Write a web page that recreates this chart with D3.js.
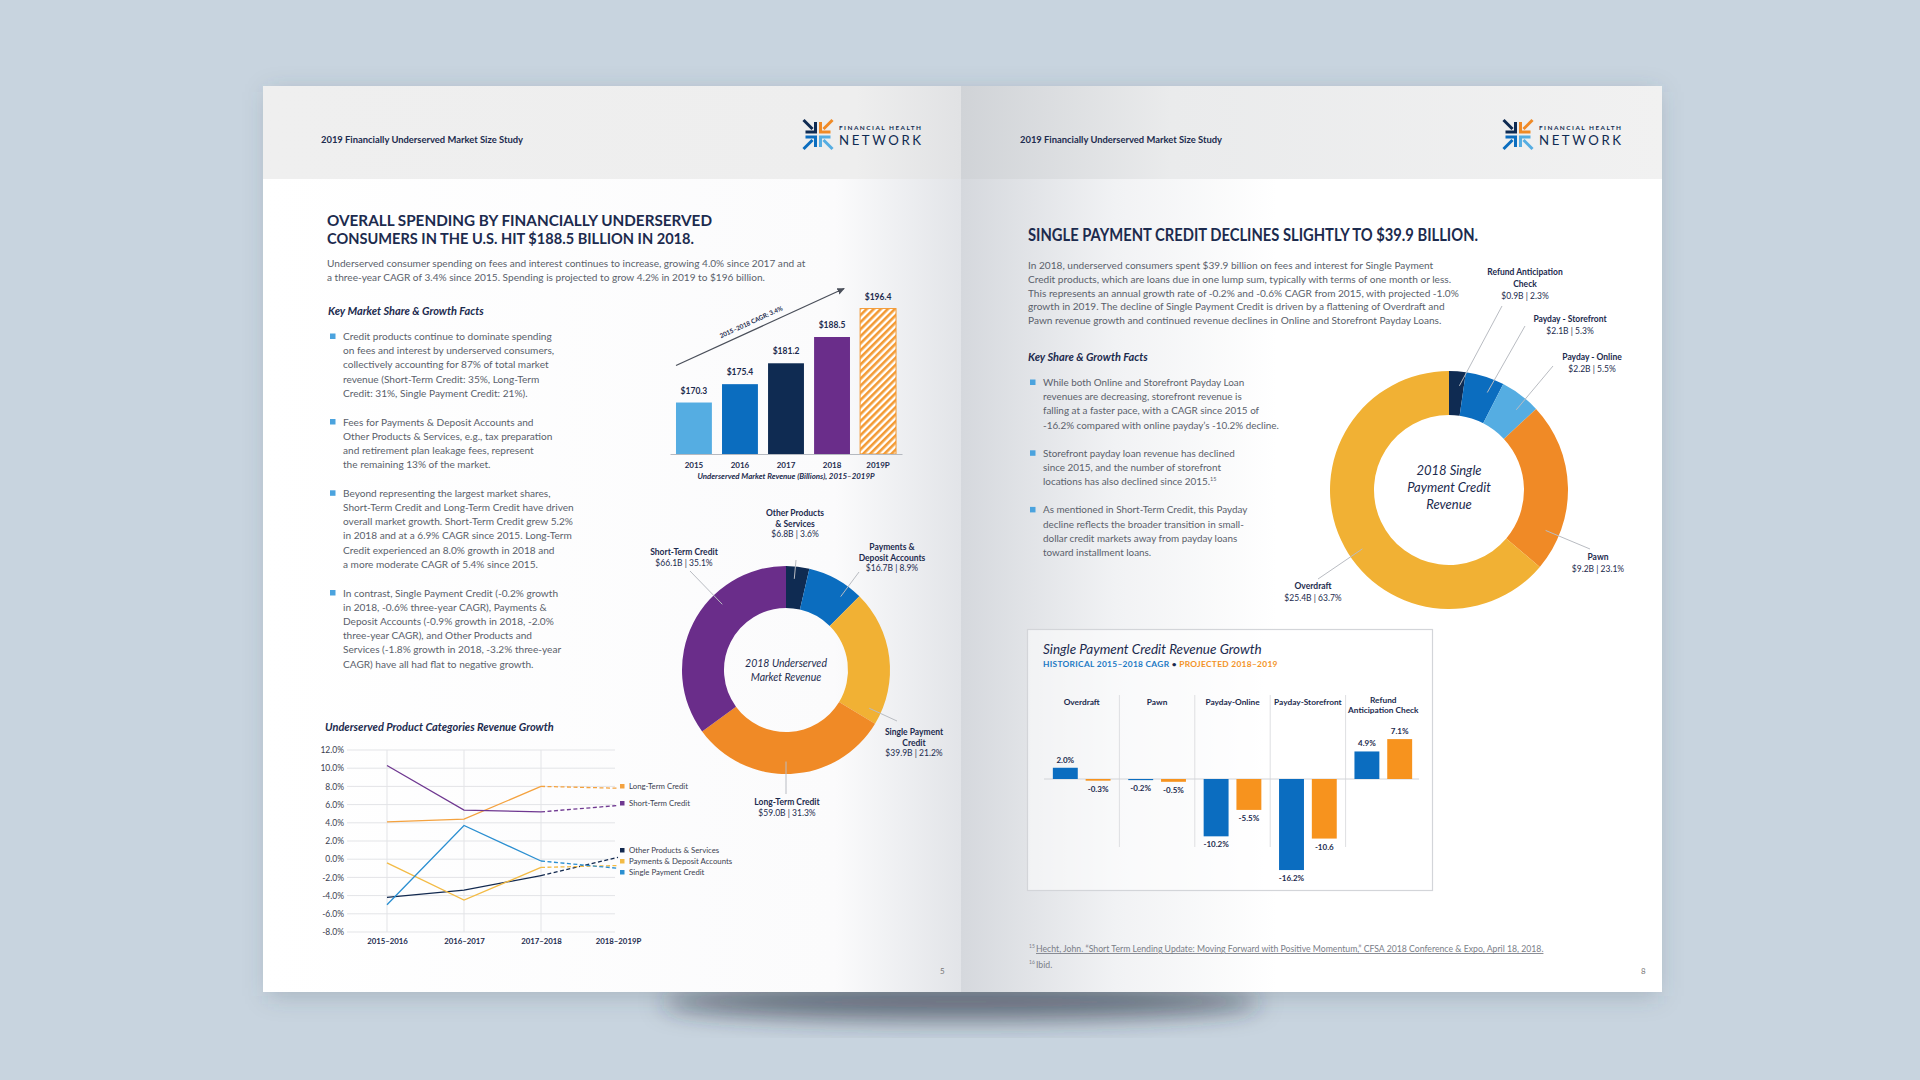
<!DOCTYPE html>
<html lang="en">
<head>
<meta charset="UTF-8">
<title>2019 Financially Underserved Market Size Study</title>
<script src="https://d3js.org/d3.v7.min.js"></script>
<style>
  html, body { margin: 0; padding: 0; background: #c8d4df; overflow: hidden; }
  svg { display: block; font-family: Lato, "Open Sans", sans-serif; }
</style>
</head>
<body>
<div id="spread"></div>
<script>
// ---------- data ----------
const revYears = ["2015", "2016", "2017", "2018", "2019P"];
const revValues = [170.3, 175.4, 181.2, 188.5, 196.4];

const mktNames = [["Other Products", "& Services"], ["Payments &", "Deposit Accounts"], ["Single Payment", "Credit"], ["Long-Term Credit"], ["Short-Term Credit"]];
const mktValues = [6.8, 16.7, 39.9, 59.0, 66.1];
const mktShares = [3.6, 8.9, 21.2, 31.3, 35.1];

const periods = ["2015–2016", "2016–2017", "2017–2018", "2018–2019P"];
const growthTicks = [12, 10, 8, 6, 4, 2, 0, -2, -4, -6, -8];
const growthNames = ["Long-Term Credit", "Short-Term Credit", "Other Products & Services", "Payments & Deposit Accounts", "Single Payment Credit"];
const longTermGrowth = [4.1, 4.4, 8.0, 7.8];
const shortTermGrowth = [10.3, 5.4, 5.2, 5.9];
const otherGrowth = [-4.2, -3.4, -1.8, 0.2];
const paymentsGrowth = [-0.4, -4.5, -0.9, -0.7];
const singlePayGrowth = [-5.0, 3.7, -0.2, -1.0];

const spcNames = [["Refund Anticipation", "Check"], ["Payday - Storefront"], ["Payday - Online"], ["Pawn"], ["Overdraft"]];
const spcValues = [0.9, 2.1, 2.2, 9.2, 25.4];
const spcShares = [2.3, 5.3, 5.5, 23.1, 63.7];

const spcGrowthCats = [["Overdraft"], ["Pawn"], ["Payday-Online"], ["Payday-Storefront"], ["Refund", "Anticipation Check"]];
const historicalCagr = [2.0, -0.2, -10.2, -16.2, 4.9];
const projectedGrowth = [-0.3, -0.5, -5.5, -10.6, 7.1];
const historicalLabels = ["2.0%", "-0.2%", "-10.2%", "-16.2%", "4.9%"];
const projectedLabels = ["-0.3%", "-0.5%", "-5.5%", "-10.6", "7.1%"];

// ---------- colours ----------
const NAVY = "#0f2b52", BLUE = "#0b6dbf", LIGHT = "#55ade2", PURPLE = "#6a2d8a",
      GOLD = "#f1b134", ORANGE = "#f08a26", INK = "#1c2b4e", BODY = "#5a5f6b";
const BODY_SIZE = 10.1;

const svg = d3.select("#spread").append("svg").attr("width", 1920).attr("height", 1080);
const defs = svg.append("defs");

function hGrad(id, stops, x1, x2) {
  const g = defs.append("linearGradient").attr("id", id)
    .attr("gradientUnits", "userSpaceOnUse")
    .attr("x1", x1).attr("x2", x2).attr("y1", 0).attr("y2", 0);
  stops.forEach(s => g.append("stop").attr("offset", s[0]).attr("stop-color", s[1]));
}
hGrad("leftPage", [[0, "#ffffff"], [0.82, "#fbfbfc"], [1, "#e2e4e8"]], 263, 961);
hGrad("rightPage", [[0, "#d5d8dd"], [0.22, "#f1f2f4"], [0.45, "#ffffff"], [1, "#ffffff"]], 961, 1662);
hGrad("leftHead", [[0, "#efefef"], [0.85, "#eeeeee"], [1, "#e1e2e4"]], 263, 961);
hGrad("rightHead", [[0, "#d0d3d7"], [0.3, "#eaebec"], [1, "#f1f1f1"]], 961, 1662);

const blur = defs.append("filter").attr("id", "blur")
  .attr("x", "-50%").attr("y", "-50%").attr("width", "200%").attr("height", "200%");
blur.append("feGaussianBlur").attr("stdDeviation", 12);

const hatch = defs.append("pattern").attr("id", "hatch")
  .attr("patternUnits", "userSpaceOnUse").attr("width", 5).attr("height", 5)
  .attr("patternTransform", "rotate(45)");
hatch.append("rect").attr("width", 5).attr("height", 5).attr("fill", "#ffffff");
hatch.append("rect").attr("width", 2.6).attr("height", 5).attr("fill", "#f39a34");

defs.append("marker").attr("id", "arrow").attr("viewBox", "0 0 10 10")
  .attr("refX", 8).attr("refY", 5).attr("markerWidth", 7).attr("markerHeight", 7)
  .attr("orient", "auto")
  .append("path").attr("d", "M0,1L9,5L0,9z").attr("fill", "#4a4f5a");

// helpers
function txt(parent, x, y, str, size, o = {}) {
  const t = parent.append("text").attr("x", x).attr("y", y)
    .attr("font-size", size)
    .attr("font-weight", o.weight || 400)
    .attr("font-style", o.italic ? "italic" : "normal")
    .attr("fill", o.fill || BODY)
    .attr("text-anchor", o.anchor || "start")
    .text(str);
  if (o.len) t.attr("textLength", o.len).attr("lengthAdjust", o.adjust || "spacingAndGlyphs");
  if (o.ls) t.attr("letter-spacing", o.ls);
  return t;
}
function para(parent, x, y, lines, size, lh, o = {}) {
  lines.forEach((l, i) => txt(parent, x, y + i * lh, l, size, o));
}
function bullets(parent, x, y, groups, size, lh, gap) {
  let yy = y;
  groups.forEach(lines => {
    parent.append("rect").attr("x", x - 13).attr("y", yy - 6.5)
      .attr("width", 5.5).attr("height", 5.5).attr("fill", "#4ba3de");
    lines.forEach((l, i) => {
      const t = txt(parent, x, yy + i * lh, typeof l === "string" ? l : l[0], size);
      if (typeof l !== "string") t.append("tspan").attr("font-size", 5.5).attr("dy", -4).text(l[1]);
    });
    yy += lines.length * lh + gap;
  });
}

// ---------- backdrop ----------
svg.append("rect").attr("width", 1920).attr("height", 1080).attr("fill", "#c8d4df");
svg.append("ellipse").attr("cx", 961).attr("cy", 1002).attr("rx", 300).attr("ry", 18)
  .attr("fill", "rgba(35,45,60,0.6)").attr("filter", "url(#blur)");
svg.append("rect").attr("x", 268).attr("y", 92).attr("width", 1390).attr("height", 904)
  .attr("fill", "rgba(60,75,95,0.25)").attr("filter", "url(#blur)");

svg.append("rect").attr("x", 263).attr("y", 86).attr("width", 698).attr("height", 906).attr("fill", "url(#leftPage)");
svg.append("rect").attr("x", 961).attr("y", 86).attr("width", 701).attr("height", 906).attr("fill", "url(#rightPage)");
svg.append("rect").attr("x", 263).attr("y", 86).attr("width", 698).attr("height", 93).attr("fill", "url(#leftHead)");
svg.append("rect").attr("x", 961).attr("y", 86).attr("width", 701).attr("height", 93).attr("fill", "url(#rightHead)");

// header text + logo
function logo(x, y) {
  const g = svg.append("g").attr("transform", `translate(${x},${y})`);
  const quads = [
    { c: NAVY, sx: -1, sy: -1 }, { c: ORANGE, sx: 1, sy: -1 },
    { c: BLUE, sx: -1, sy: 1 }, { c: LIGHT, sx: 1, sy: 1 }
  ];
  quads.forEach(q => {
    const cx = 14, cy = 13.5;
    const ix = cx + q.sx * 2.5, iy = cy + q.sy * 2.5;
    g.append("path")
      .attr("d", `M${ix},${iy + q.sy * 10}L${ix},${iy}L${ix + q.sx * 10},${iy}`)
      .attr("fill", "none").attr("stroke", q.c).attr("stroke-width", 3);
    g.append("path")
      .attr("d", `M${ix + q.sx * 12},${iy + q.sy * 12}L${ix + q.sx * 3},${iy + q.sy * 3}`)
      .attr("stroke", q.c).attr("stroke-width", 3);
  });
  txt(g, 35, 8.5, "FINANCIAL HEALTH", 6.4, { weight: 700, fill: NAVY, len: 82, adjust: "spacing" });
  txt(g, 35, 24, "NETWORK", 13.2, { weight: 400, fill: NAVY, len: 82, adjust: "spacing" });
}
txt(svg, 321, 143, "2019 Financially Underserved Market Size Study", 9.5, { weight: 700, fill: INK, len: 202 });
txt(svg, 1020, 143, "2019 Financially Underserved Market Size Study", 9.5, { weight: 700, fill: INK, len: 202 });
logo(804, 121);
logo(1504, 121);

// ---------- left page text ----------
txt(svg, 327, 226, "OVERALL SPENDING BY FINANCIALLY UNDERSERVED", 16, { weight: 700, fill: INK, len: 385 });
txt(svg, 327, 244, "CONSUMERS IN THE U.S. HIT $188.5 BILLION IN 2018.", 16, { weight: 700, fill: INK, len: 367 });
para(svg, 327, 267, [
  "Underserved consumer spending on fees and interest continues to increase, growing 4.0% since 2017 and at",
  "a three-year CAGR of 3.4% since 2015. Spending is projected to grow 4.2% in 2019 to $196 billion."
], BODY_SIZE, 14);
txt(svg, 328, 315, "Key Market Share & Growth Facts", 11, { weight: 700, italic: true, fill: INK });
bullets(svg, 343, 340, [
  ["Credit products continue to dominate spending", "on fees and interest by underserved consumers,",
   "collectively accounting for 87% of total market", "revenue (Short-Term Credit: 35%, Long-Term",
   "Credit: 31%, Single Payment Credit: 21%)."],
  ["Fees for Payments & Deposit Accounts and", "Other Products & Services, e.g., tax preparation",
   "and retirement plan leakage fees, represent", "the remaining 13% of the market."],
  ["Beyond representing the largest market shares,", "Short-Term Credit and Long-Term Credit have driven",
   "overall market growth. Short-Term Credit grew 5.2%", "in 2018 and at a 6.9% CAGR since 2015. Long-Term",
   "Credit experienced an 8.0% growth in 2018 and", "a more moderate CAGR of 5.4% since 2015."],
  ["In contrast, Single Payment Credit (-0.2% growth", "in 2018, -0.6% three-year CAGR), Payments &",
   "Deposit Accounts (-0.9% growth in 2018, -2.0%", "three-year CAGR), and Other Products and",
   "Services (-1.8% growth in 2018, -3.2% three-year", "CAGR) have all had flat to negative growth."]
], BODY_SIZE, 14.2, 14.5);

// ---------- revenue bar chart ----------
const bx = d3.scaleBand().domain(revYears).range([670, 902]).paddingInner(0.22).paddingOuter(0.13);
const by = d3.scaleLinear().domain([156, 200]).range([454, 295.6]);
const revColors = [LIGHT, BLUE, NAVY, PURPLE, "url(#hatch)"];
const barG = svg.append("g");
barG.selectAll("rect").data(revValues).join("rect")
  .attr("x", (d, i) => bx(revYears[i])).attr("width", bx.bandwidth())
  .attr("y", d => by(d)).attr("height", d => by.range()[0] - by(d))
  .attr("fill", (d, i) => revColors[i])
  .attr("stroke", (d, i) => i === 4 ? "#f39a34" : "none").attr("stroke-width", 1);
barG.selectAll("text.v").data(revValues).join("text").attr("class", "v")
  .attr("x", (d, i) => bx(revYears[i]) + bx.bandwidth() / 2).attr("y", d => by(d) - 9)
  .attr("text-anchor", "middle").attr("font-size", 8.5).attr("font-weight", 700).attr("fill", INK)
  .text(d => "$" + d.toFixed(1));
const bxAxis = barG.append("g").attr("transform", "translate(0,454)")
  .call(d3.axisBottom(bx).tickSize(0).tickSizeOuter(0).tickPadding(8));
bxAxis.select(".domain").attr("stroke", "#b5b9c0");
bxAxis.selectAll("text").attr("font-size", 8).attr("font-weight", 700).attr("fill", INK).attr("font-family", "Lato");
txt(svg, 786, 479, "Underserved Market Revenue (Billions), 2015–2019P", 7.9, { weight: 700, italic: true, fill: INK, anchor: "middle" });
const a0 = [bx("2015"), by(revValues[0]) - 37], a1 = [bx("2019P") - 16, by(revValues[4]) - 20];
barG.append("line").attr("x1", a0[0]).attr("y1", a0[1]).attr("x2", a1[0]).attr("y2", a1[1])
  .attr("stroke", "#4a4f5a").attr("stroke-width", 1.2).attr("marker-end", "url(#arrow)");
const ang = Math.atan2(a1[1] - a0[1], a1[0] - a0[0]) * 180 / Math.PI;
barG.append("text")
  .attr("transform", `translate(${(a0[0] + a1[0]) / 2 - 8},${(a0[1] + a1[1]) / 2 - 3}) rotate(${ang})`)
  .attr("text-anchor", "middle").attr("font-size", 6.3).attr("font-weight", 700).attr("fill", INK)
  .text("2015–2018 CAGR: 3.4%");

// ---------- donut helper ----------
function donut(cx, cy, rOut, rIn, values, shares, names, colors, layout, lh, centerLines, cSize, cLh, cY) {
  const g = svg.append("g").attr("transform", `translate(${cx},${cy})`);
  const arcs = d3.pie().sort(null).value(d => d)(values);
  const arc = d3.arc().innerRadius(rIn).outerRadius(rOut);
  g.selectAll("path").data(arcs).join("path").attr("d", arc).attr("fill", (d, i) => colors[i]);
  arcs.forEach((a, i) => {
    const L = layout[i];
    const lx = L.lx - cx, ly = L.ly - cy;
    let t = Math.atan2(lx, -ly);
    if (t < 0) t += 2 * Math.PI;
    const d = Math.min(0.1, (a.endAngle - a.startAngle) * 0.3);
    t = Math.max(a.startAngle + d, Math.min(a.endAngle - d, t));
    const r = rOut * 0.88;
    g.append("line").attr("x1", lx).attr("y1", ly)
      .attr("x2", r * Math.sin(t)).attr("y2", -r * Math.cos(t))
      .attr("stroke", "#b9bcc2").attr("stroke-width", 1);
    names[i].forEach((n, k) => txt(g, L.x - cx, L.y - cy + k * lh, n, 8.5, { weight: 700, fill: INK, anchor: "middle" }));
    txt(g, L.x - cx, L.y - cy + names[i].length * lh, `$${values[i].toFixed(1)}B | ${shares[i].toFixed(1)}%`, 8.5,
      { fill: INK, anchor: "middle" });
  });
  centerLines.forEach((c, k) => txt(g, 0, cY + k * cLh, c, cSize, { italic: true, fill: INK, anchor: "middle" }));
}

donut(786, 670, 104, 62, mktValues, mktShares, mktNames, [NAVY, BLUE, GOLD, ORANGE, PURPLE], [
  { x: 795, y: 516, lx: 796, ly: 560 },
  { x: 892, y: 550, lx: 859, ly: 572 },
  { x: 914, y: 735, lx: 897, ly: 721 },
  { x: 787, y: 805, lx: 786, ly: 794 },
  { x: 684, y: 555, lx: 690, ly: 571 }
], 10.5, ["2018 Underserved", "Market Revenue"], 10.5, 13.5, -3);

// ---------- growth line chart ----------
txt(svg, 325, 731, "Underserved Product Categories Revenue Growth", 11, { weight: 700, italic: true, fill: INK });
const lx = d3.scalePoint().domain(periods).range([387, 618]);
const ly = d3.scaleLinear().domain([-8, 12]).range([932, 750]);
const lg = svg.append("g");
lg.selectAll("line.h").data(growthTicks).join("line").attr("class", "h")
  .attr("x1", 347).attr("x2", 615).attr("y1", d => ly(d)).attr("y2", d => ly(d))
  .attr("stroke", "#e3e4e7").attr("stroke-width", 1);
lg.selectAll("line.v").data(periods.slice(0, 3)).join("line").attr("class", "v")
  .attr("x1", d => lx(d)).attr("x2", d => lx(d)).attr("y1", ly(12)).attr("y2", ly(-8))
  .attr("stroke", "#e3e4e7").attr("stroke-width", 1);
const yAx = lg.append("g").attr("transform", "translate(347,0)")
  .call(d3.axisLeft(ly).tickValues(growthTicks).tickFormat(d => d.toFixed(1) + "%").tickSize(0).tickPadding(3));
yAx.select(".domain").remove();
yAx.selectAll("text").attr("font-size", 8.5).attr("fill", "#3b4150").attr("font-family", "Lato");
const xAx = lg.append("g").attr("transform", "translate(0,932)")
  .call(d3.axisBottom(lx).tickSize(0).tickPadding(6.5));
xAx.select(".domain").remove();
xAx.selectAll("text").attr("font-size", 7.8).attr("font-weight", 700).attr("fill", INK).attr("font-family", "Lato");

const growthData = [longTermGrowth, shortTermGrowth, otherGrowth, paymentsGrowth, singlePayGrowth];
const growthColors = ["#f4a23f", "#6f3891", "#12294f", "#f3bb45", "#2b8fd1"];
const line = d3.line().x((d, i) => lx(periods[i])).y(d => ly(d));
const legendY = [789, 806, 853, 864, 875];
growthData.forEach((s, k) => {
  lg.append("path").attr("d", line(s.slice(0, 3))).attr("fill", "none")
    .attr("stroke", growthColors[k]).attr("stroke-width", 1.3);
  const seg = d3.line().x(d => lx(periods[d.i])).y(d => ly(d.v))([{ i: 2, v: s[2] }, { i: 3, v: s[3] }]);
  lg.append("path").attr("d", seg).attr("fill", "none")
    .attr("stroke", growthColors[k]).attr("stroke-width", 1.3).attr("stroke-dasharray", "4,2.5");
  lg.append("rect").attr("x", 620).attr("y", legendY[k] - 5).attr("width", 4.5).attr("height", 4.5).attr("fill", growthColors[k]);
  txt(lg, 629, legendY[k], growthNames[k], 7.8, { fill: "#3b4150" });
});

txt(svg, 940, 974, "5", 8, { fill: "#777" });

// ---------- right page text ----------
txt(svg, 1028, 241, "SINGLE PAYMENT CREDIT DECLINES SLIGHTLY TO $39.9 BILLION.", 16.5, { weight: 700, fill: INK, len: 450 });
para(svg, 1028, 269, [
  "In 2018, underserved consumers spent $39.9 billion on fees and interest for Single Payment",
  "Credit products, which are loans due in one lump sum, typically with terms of one month or less.",
  "This represents an annual growth rate of -0.2% and -0.6% CAGR from 2015, with  projected -1.0%",
  "growth in 2019. The decline of Single Payment Credit is driven by a flattening of Overdraft and",
  "Pawn revenue growth and continued revenue declines in Online and Storefront Payday Loans."
], BODY_SIZE, 13.8);
txt(svg, 1028, 361, "Key Share & Growth Facts", 11, { weight: 700, italic: true, fill: INK });
bullets(svg, 1043, 386, [
  ["While both Online and Storefront Payday Loan", "revenues are decreasing, storefront revenue is",
   "falling at a faster pace, with a CAGR since 2015 of", "-16.2% compared with online payday’s -10.2% decline."],
  ["Storefront payday loan revenue has declined", "since 2015, and the number of storefront",
   ["locations has also declined since 2015.", "15"]],
  ["As mentioned in Short-Term Credit, this Payday", "decline reflects the broader transition in small-",
   "dollar credit markets away from payday loans", "toward installment loans."]
], 9.9, 14.2, 14);

donut(1449, 490, 119, 75, spcValues, spcShares, spcNames, [NAVY, BLUE, LIGHT, ORANGE, GOLD], [
  { x: 1525, y: 275, lx: 1502, ly: 306 },
  { x: 1570, y: 322, lx: 1525, ly: 326 },
  { x: 1592, y: 360, lx: 1553, ly: 366 },
  { x: 1598, y: 560, lx: 1590, ly: 549 },
  { x: 1313, y: 589, lx: 1318, ly: 579 }
], 12, ["2018 Single", "Payment Credit", "Revenue"], 13, 17, -15);

// ---------- single payment growth bars ----------
svg.append("rect").attr("x", 1027.5).attr("y", 629.5).attr("width", 405).attr("height", 261)
  .attr("fill", "rgba(255,255,255,0.55)").attr("stroke", "#d3d5d9").attr("stroke-width", 1.2);
txt(svg, 1043, 654, "Single Payment Credit Revenue Growth", 13.5, { weight: 400, italic: true, fill: INK });
const sub = txt(svg, 1043, 667, "", 8.4, { weight: 700, ls: 0.3 });
sub.append("tspan").attr("fill", "#1b79c4").text("HISTORICAL 2015–2018 CAGR");
sub.append("tspan").attr("fill", INK).text("  •  ");
sub.append("tspan").attr("fill", "#f39325").text("PROJECTED 2018–2019");

const catKeys = spcGrowthCats.map(d => d.join(" "));
const gx = d3.scaleBand().domain(catKeys).range([1044, 1421]);
const gi = d3.scaleBand().domain(["hist", "proj"]).range([0, gx.bandwidth()]).paddingInner(0.24).paddingOuter(0.27);
const gy = d3.scaleLinear().domain([-18, 8]).range([779 + 18 * 5.62, 779 - 8 * 5.62]);
const gg = svg.append("g");
gg.selectAll("line.sep").data(catKeys.slice(1)).join("line").attr("class", "sep")
  .attr("x1", d => gx(d)).attr("x2", d => gx(d)).attr("y1", 695).attr("y2", 847)
  .attr("stroke", "#dedfe2").attr("stroke-width", 1);
gg.append("line").attr("x1", 1044).attr("x2", 1419).attr("y1", gy(0)).attr("y2", gy(0))
  .attr("stroke", "#d2d4d8").attr("stroke-width", 1);
spcGrowthCats.forEach((c, i) => {
  const cxm = gx(catKeys[i]) + gx.bandwidth() / 2;
  const y0 = c.length > 1 ? 703 : 704.5;
  c.forEach((n, k) => txt(gg, cxm, y0 + k * 10, n, 8.3, { weight: 700, fill: INK, anchor: "middle" }));
});
[[historicalCagr, historicalLabels, "hist", "#0b6dc0"], [projectedGrowth, projectedLabels, "proj", "#f7931e"]].forEach(([vals, labs, key, col]) => {
  gg.selectAll("rect." + key).data(vals).join("rect").attr("class", key)
    .attr("x", (d, i) => gx(catKeys[i]) + gi(key)).attr("width", gi.bandwidth())
    .attr("y", d => gy(Math.max(0, d))).attr("height", d => Math.abs(gy(d) - gy(0)))
    .attr("fill", col);
  gg.selectAll("text." + key).data(vals).join("text").attr("class", key)
    .attr("x", (d, i) => gx(catKeys[i]) + gi(key) + gi.bandwidth() / 2)
    .attr("y", d => d >= 0 ? gy(d) - 5 : gy(d) + 11)
    .attr("text-anchor", "middle").attr("font-size", 8).attr("font-weight", 700).attr("fill", INK)
    .text((d, i) => labs[i]);
});

// footnotes
const f1 = txt(svg, 1036, 952, "Hecht, John. “Short Term Lending Update: Moving Forward with Positive Momentum,” CFSA 2018 Conference & Expo, April 18, 2018.", 8.7, { fill: "#7a7e87" });
f1.attr("text-decoration", "underline");
txt(svg, 1029, 948, "15", 5, { fill: "#7a7e87" });
txt(svg, 1036, 968, "Ibid.", 8.7, { fill: "#7a7e87" });
txt(svg, 1029, 964, "16", 5, { fill: "#7a7e87" });
txt(svg, 1641, 974, "8", 8, { fill: "#777" });
</script>
</body>
</html>
